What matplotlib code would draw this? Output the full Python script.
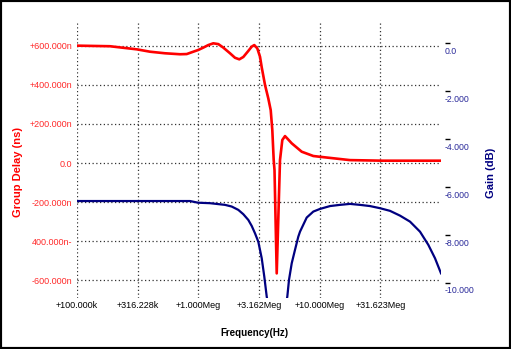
import numpy as np
import matplotlib
matplotlib.use('Agg')
import matplotlib.pyplot as plt
import matplotlib.transforms as mtransforms
from matplotlib.patches import Rectangle

plt.rcParams['font.family'] = ['Liberation Sans', 'DejaVu Sans']

# group delay (red), frequency in Hz, delay in ns
gd_freq = [1.0e5, 1.871e5, 3.123e5, 3.997e5, 5.313e5, 7.063e5, 8.020e5, 9.090e5,
           9.995e5, 1.099e6, 1.208e6, 1.328e6, 1.461e6, 1.606e6, 1.824e6, 2.005e6,
           2.176e6, 2.348e6, 2.582e6, 2.754e6, 2.893e6, 3.062e6, 3.224e6, 3.330e6,
           3.544e6, 3.772e6, 3.949e6, 4.071e6, 4.180e6, 4.244e6, 4.426e6, 4.711e6,
           4.922e6, 5.181e6, 5.480e6, 5.884e6, 7.112e6, 8.865e6, 1.006e7, 1.778e7,
           3.327e7, 1.0e8]
gd_ns = [601, 598, 582, 570, 562, 557, 558, 570,
         579, 591, 604, 613, 609, 591, 562, 539,
         531, 543, 574, 596, 604, 587, 544, 490,
         400, 331, 271, 169, 15, -36, -565, 15,
         118, 138, 122, 101, 58, 36, 32, 15,
         12, 12]

# gain (navy), frequency in Hz, gain in dB
gain_freq = [1.0e5, 3.123e5, 8.537e5, 9.94e5, 1.248e6, 1.659e6, 1.884e6, 2.136e6,
             2.348e6, 2.582e6, 2.754e6, 2.932e6, 3.121e6, 3.330e6, 3.497e6, 3.661e6,
             4.450e6, 5.412e6, 5.589e6, 5.884e6, 6.261e6, 6.665e6, 6.886e6, 7.820e6,
             8.865e6, 1.006e7, 1.217e7, 1.471e7, 1.778e7, 2.150e7, 2.599e7, 3.144e7,
             3.799e7, 4.594e7, 5.554e7, 6.714e7, 7.861e7, 8.925e7, 1.0e8]
gain_db = [-6.58, -6.58, -6.58, -6.65, -6.67, -6.74, -6.81, -6.95,
           -7.13, -7.37, -7.62, -7.93, -8.28, -8.97, -9.74, -10.57,
           -13.0, -10.57, -9.87, -9.18, -8.62, -8.07, -7.86, -7.27,
           -7.02, -6.91, -6.79, -6.74, -6.70, -6.74, -6.79, -6.88,
           -6.99, -7.19, -7.44, -7.86, -8.41, -8.97, -9.60]

x_ticks = [1e5, 316228, 1e6, 3.162e6, 1e7, 3.1623e7]
x_labels = ['+100.000k', '+316.228k', '+1.000Meg', '+3.162Meg', '+10.000Meg', '+31.623Meg']
gd_ticks = [-600, -400, -200, 0, 200, 400, 600]
gd_labels = ['-600.000n', '400.000n-', '-200.000n', '0.0', '+200.000n', '+400.000n', '+600.000n']
gain_ticks = [0, -2, -4, -6, -8, -10]
gain_labels = ['0.0', '-2.000', '-4.000', '-6.000', '-8.000', '-10.000']

RED = '#ff0000'
NAVY = '#000080'
PX = 72 / 100.0  # one pixel in points

fig = plt.figure(figsize=(5.11, 3.49), dpi=100)
ax = fig.add_axes([77/511, 51/349, 364/511, 275/349])
ax2 = ax.twinx()

ax.set_xscale('log')
ax.set_xlim(1e5, 1e8)
ax.set_ylim(-691, 717)
ax2.set_ylim(-10.63, 0.856)

for s in ax.spines.values():
    s.set_visible(False)
for s in ax2.spines.values():
    s.set_visible(False)

ax.plot(gd_freq, gd_ns, color=RED, lw=1.9, zorder=3)
ax2.plot(gain_freq, gain_db, color=NAVY, lw=1.6)

ax.set_xticks(x_ticks)
ax.set_xticklabels(x_labels)
ax.xaxis.set_minor_locator(matplotlib.ticker.NullLocator())
ax.set_yticks(gd_ticks)
ax.set_yticklabels(gd_labels)
ax.tick_params(axis='x', length=0, pad=3*PX, labelsize=6.5, colors='black')
ax.tick_params(axis='y', length=0, pad=5*PX, labelsize=6.5, labelcolor='#ff2a2a')
ax.grid(True, which='major', color='#333333', lw=0.9, ls=(0, (1, 2)))

ax2.spines['right'].set_position(('outward', 4*PX))
ax2.set_yticks(gain_ticks)
ax2.set_yticklabels(gain_labels)
ax2.tick_params(axis='y', direction='out', length=5*PX, width=1, color='black',
                pad=-5*PX, labelsize=6.3, labelcolor='#2a2a9a')
shift = mtransforms.ScaledTranslation(0, -7/100, fig.dpi_scale_trans)
for lab in ax2.get_yticklabels():
    lab.set_transform(lab.get_transform() + shift)

fig.text(18/511, 1 - 172/349, 'Group Delay (ns)', rotation=90, color=RED,
         fontsize=8, fontweight='bold', ha='center', va='center')
fig.text(491/511, 1 - 173/349, 'Gain (dB)', rotation=90, color=NAVY,
         fontsize=8, fontweight='bold', ha='center', va='center')
fig.text(254/511, 1 - 333/349, 'Frequency(Hz)', color='black',
         fontsize=7, fontweight='bold', ha='center', va='center')

fig.patches.append(Rectangle((0, 0), 1, 1, transform=fig.transFigure,
                             fill=False, edgecolor='black', lw=3))

fig.savefig('out.png', dpi=100)
